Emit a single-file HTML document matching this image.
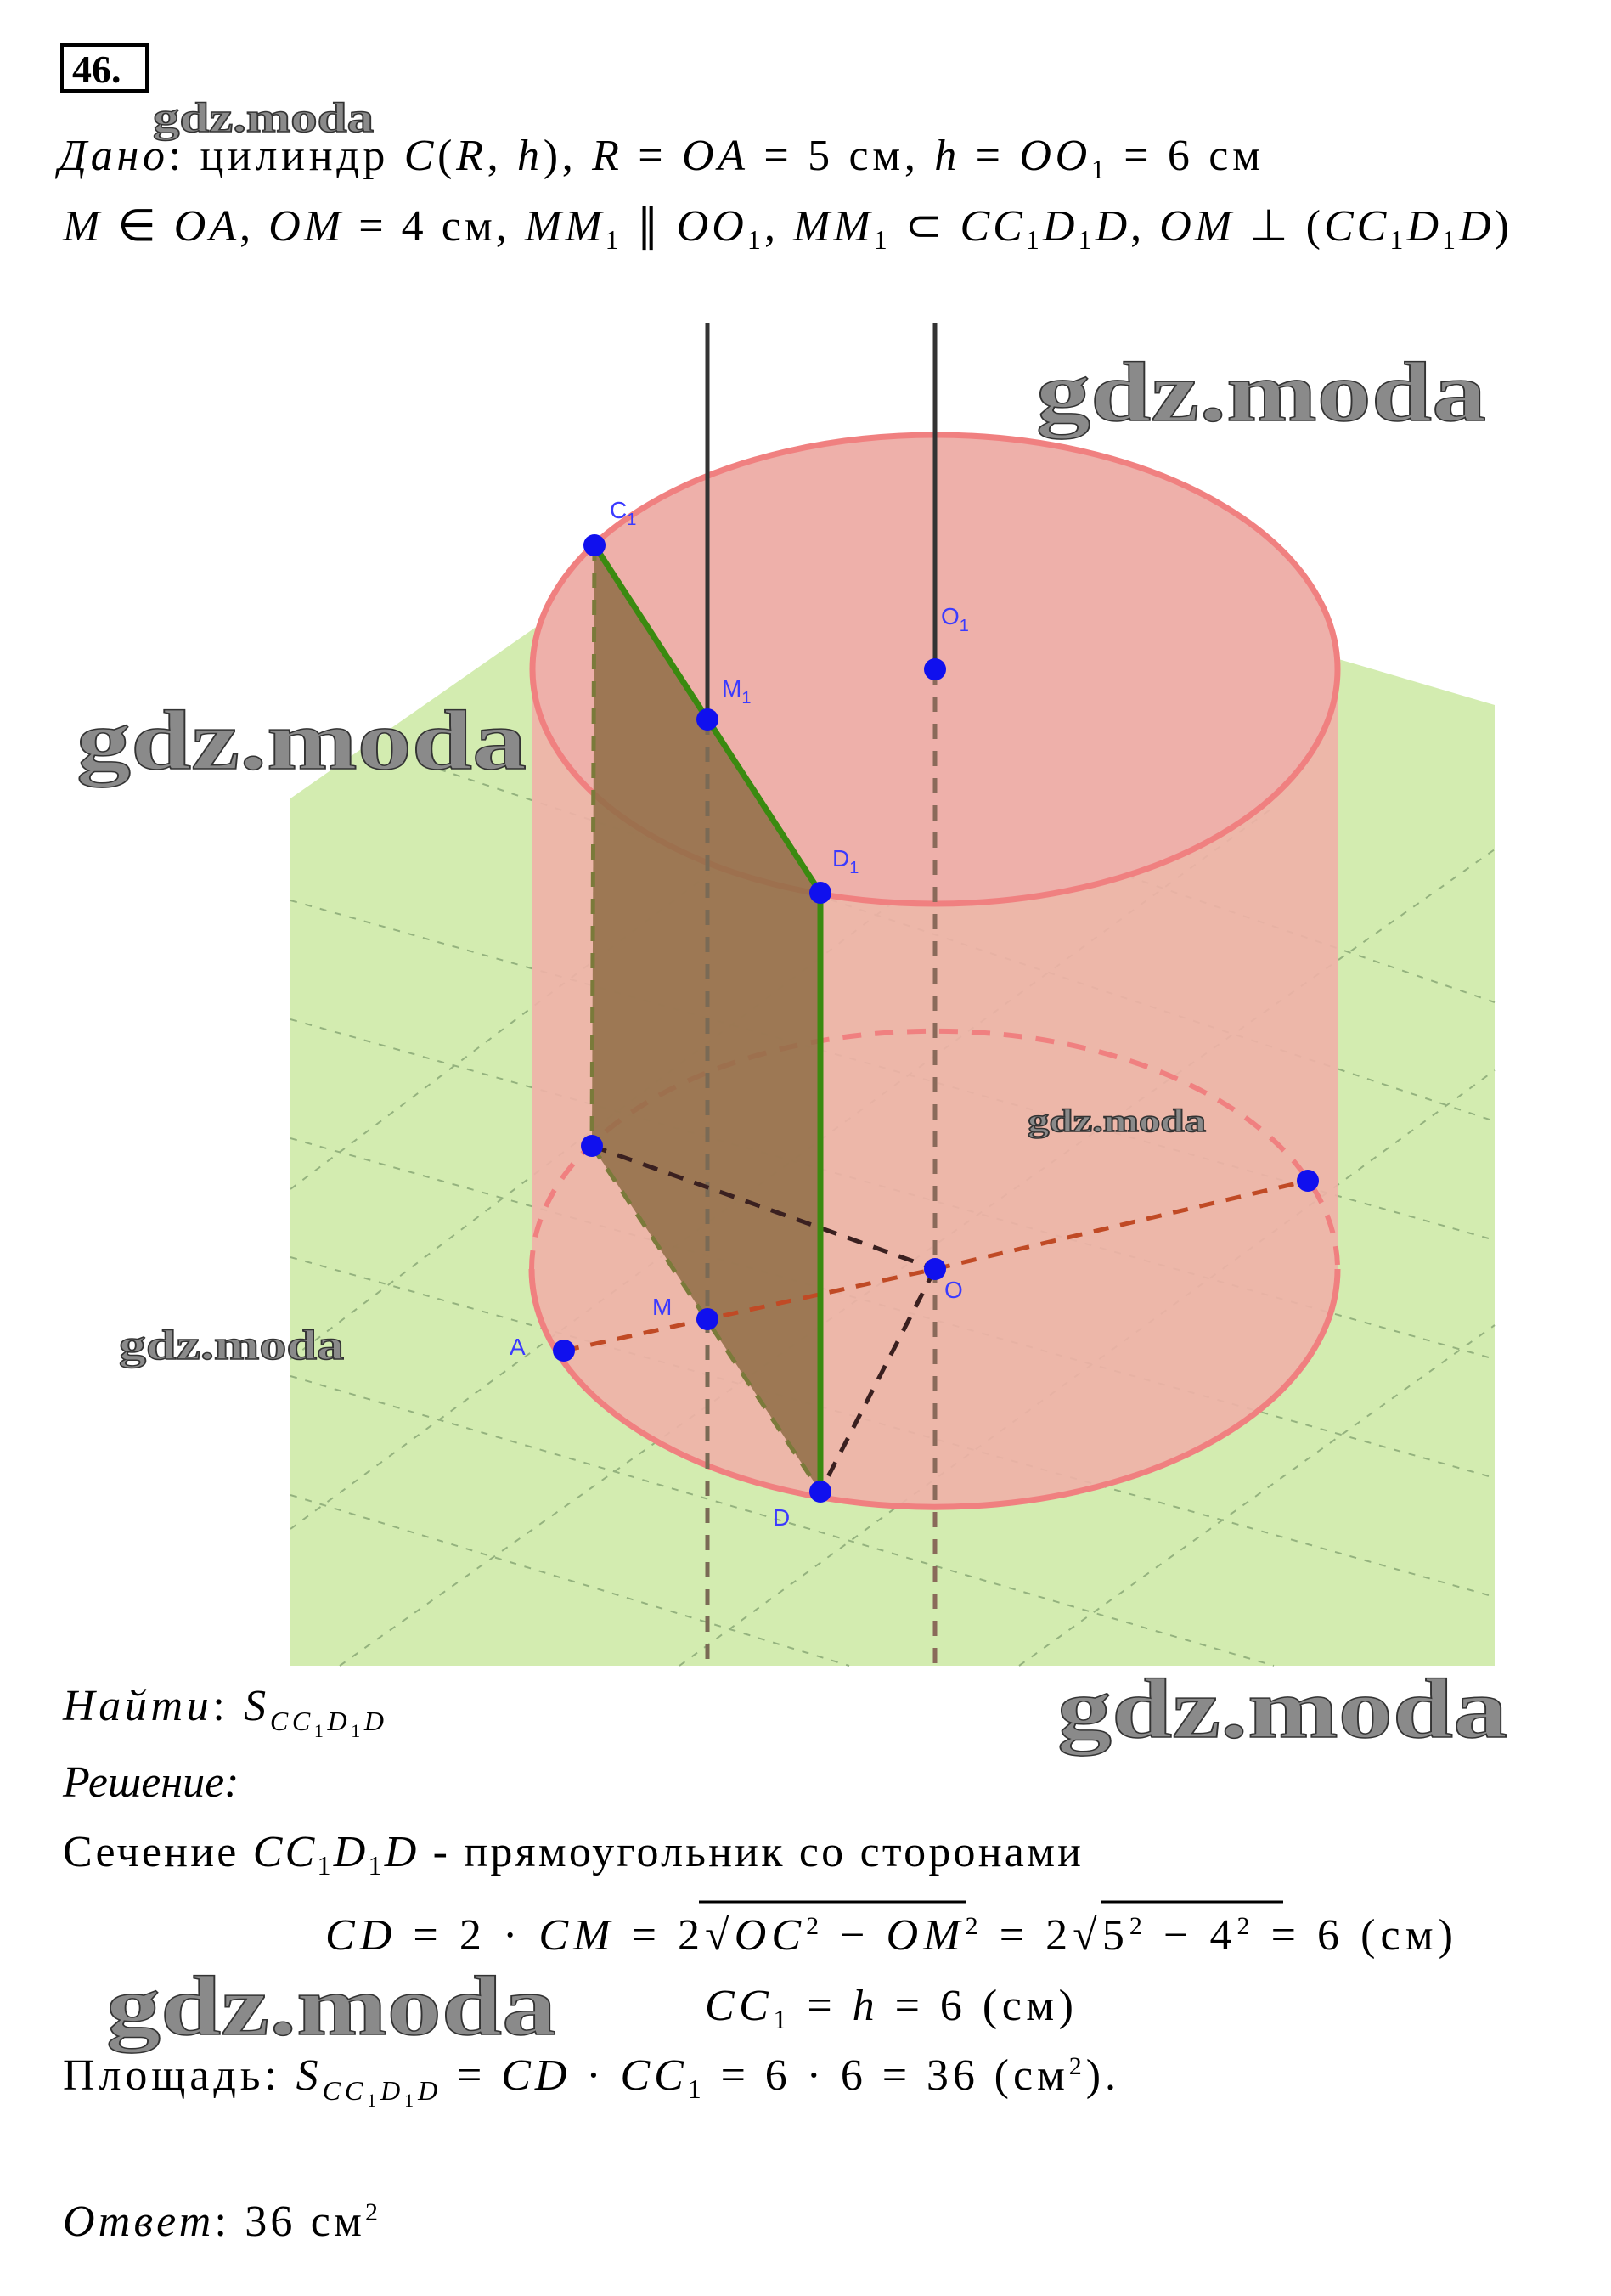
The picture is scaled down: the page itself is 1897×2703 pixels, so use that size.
<!DOCTYPE html>
<html><head><meta charset="utf-8"><style>
html,body{margin:0;padding:0;background:#fff}
svg{display:block}
.t{font-family:"Liberation Serif",serif;font-size:52px;fill:#000}
.i{font-style:italic}
.wm{font-family:"Liberation Serif",serif;font-weight:bold;fill:#8a8a8a;stroke:#333;stroke-width:1.5}
.lb{font-family:"Liberation Sans",sans-serif;font-size:28px;fill:#3a3aff}
</style></head><body>
<svg width="1897" height="2703" viewBox="0 0 1897 2703" xmlns="http://www.w3.org/2000/svg">
<rect x="73" y="53" width="100" height="54" fill="none" stroke="#000" stroke-width="4"/>
<text x="85" y="97" style="font-family:'Liberation Serif',serif;font-weight:bold;font-size:46px">46.</text>
<text x="180" y="155" class="wm" font-size="50" textLength="260" lengthAdjust="spacingAndGlyphs">gdz.moda</text>
<text x="69" y="200" class="t" textLength="1415" lengthAdjust="spacing"><tspan class="i">Дано</tspan>: цилиндр <tspan class="i">C</tspan>(<tspan class="i">R</tspan>, <tspan class="i">h</tspan>), <tspan class="i">R</tspan> = <tspan class="i">OA</tspan> = 5 см,  <tspan class="i">h</tspan> = <tspan class="i">OO</tspan><tspan font-size="32" dy="10">1</tspan><tspan dy="-10"> = 6 см</tspan></text>
<text x="74" y="283" class="t" textLength="1703" lengthAdjust="spacing"><tspan class="i">M</tspan> ∈ <tspan class="i">OA</tspan>, <tspan class="i">OM</tspan> = 4 см,  <tspan class="i">MM</tspan><tspan font-size="32" dy="10">1</tspan><tspan dy="-10"> ∥ </tspan><tspan class="i">OO</tspan><tspan font-size="32" dy="10">1</tspan><tspan dy="-10">,  </tspan><tspan class="i">MM</tspan><tspan font-size="32" dy="10">1</tspan><tspan dy="-10"> ⊂ </tspan><tspan class="i">CC</tspan><tspan font-size="32" dy="10">1</tspan><tspan dy="-10" class="i">D</tspan><tspan font-size="32" dy="10">1</tspan><tspan dy="-10" class="i">D</tspan><tspan>,  </tspan><tspan class="i">OM</tspan> ⊥ (<tspan class="i">CC</tspan><tspan font-size="32" dy="10">1</tspan><tspan dy="-10" class="i">D</tspan><tspan font-size="32" dy="10">1</tspan><tspan dy="-10" class="i">D</tspan>)</text>

<polygon points="342,940 700,690 1250,680 1760,830 1760,1961 342,1961" fill="#d3ecb0"/>
<g stroke="#7a9a6a" stroke-width="2" stroke-dasharray="8,10" opacity="0.7">
<line x1="342" y1="1060" x2="1760" y2="1460"/><line x1="342" y1="1200" x2="1760" y2="1600"/>
<line x1="342" y1="1340" x2="1760" y2="1740"/><line x1="342" y1="1480" x2="1760" y2="1880"/>
<line x1="342" y1="1620" x2="1500" y2="1961"/><line x1="342" y1="1760" x2="1000" y2="1961"/>
<line x1="500" y1="900" x2="1760" y2="1320"/><line x1="800" y1="850" x2="1760" y2="1180"/>
<line x1="400" y1="1961" x2="1760" y2="1000"/><line x1="342" y1="1800" x2="1500" y2="950"/>
<line x1="342" y1="1600" x2="1200" y2="950"/><line x1="342" y1="1400" x2="900" y2="980"/>
<line x1="800" y1="1961" x2="1760" y2="1260"/><line x1="1200" y1="1961" x2="1760" y2="1560"/>
</g>
<path d="M626,788 L626,1494 A474,280 0 0 0 1575,1494 L1575,788 Z" fill="#f0b1a8" opacity="0.9"/>
<ellipse cx="1101" cy="788" rx="474" ry="276" fill="#eeb0aa"/>
<ellipse cx="1101" cy="788" rx="474" ry="276" fill="none" stroke="#f08080" stroke-width="7"/>
<path d="M626,1494 A474,280 0 0 0 1575,1494" fill="none" stroke="#f08080" stroke-width="7"/>
<path d="M626,1494 A474,280 0 0 1 1575,1494" fill="none" stroke="#f08080" stroke-width="6" stroke-dasharray="22,16"/>
<polygon points="700,642 966,1051 966,1756 697,1349" fill="#8e6d45" opacity="0.85"/>
<g stroke-width="5" stroke-dasharray="18,14">
<line x1="833" y1="847" x2="833" y2="1961" stroke="#7a6a55"/>
<line x1="1101" y1="788" x2="1101" y2="1961" stroke="#8a6a5a"/>
<line x1="700" y1="642" x2="697" y2="1349" stroke="#7a7a3a"/>
<line x1="697" y1="1349" x2="966" y2="1756" stroke="#7a7a3a"/>
<line x1="664" y1="1590" x2="1101" y2="1494" stroke="#c04a25"/>
<line x1="1101" y1="1494" x2="1540" y2="1390" stroke="#c04a25"/>
<line x1="697" y1="1349" x2="1101" y2="1494" stroke="#3a2020"/>
<line x1="1101" y1="1494" x2="966" y2="1756" stroke="#3a2020"/>
</g>
<line x1="833" y1="380" x2="833" y2="847" stroke="#333" stroke-width="5"/>
<line x1="1101" y1="380" x2="1101" y2="788" stroke="#333" stroke-width="5"/>
<polyline points="700,642 966,1051 966,1756" fill="none" stroke="#3a8a10" stroke-width="7"/>
<g fill="#1010ee">
<circle cx="700" cy="642" r="13"/><circle cx="833" cy="847" r="13"/><circle cx="1101" cy="788" r="13"/>
<circle cx="966" cy="1051" r="13"/><circle cx="697" cy="1349" r="13"/><circle cx="833" cy="1553" r="13"/>
<circle cx="664" cy="1590" r="13"/><circle cx="966" cy="1756" r="13"/><circle cx="1101" cy="1494" r="13"/>
<circle cx="1540" cy="1390" r="13"/>
</g>
<text class="lb" x="718" y="610">C<tspan font-size="20" dy="8">1</tspan></text>
<text class="lb" x="850" y="820">M<tspan font-size="20" dy="8">1</tspan></text>
<text class="lb" x="1108" y="735">O<tspan font-size="20" dy="8">1</tspan></text>
<text class="lb" x="980" y="1020">D<tspan font-size="20" dy="8">1</tspan></text>
<text class="lb" x="768" y="1548">M</text>
<text class="lb" x="600" y="1595">A</text>
<text class="lb" x="1112" y="1528">O</text>
<text class="lb" x="910" y="1796">D</text>
<text x="1220" y="495" class="wm" font-size="100" textLength="530" lengthAdjust="spacingAndGlyphs">gdz.moda</text>
<text x="90" y="905" class="wm" font-size="100" textLength="530" lengthAdjust="spacingAndGlyphs">gdz.moda</text>
<text x="140" y="1600" class="wm" font-size="50" textLength="265" lengthAdjust="spacingAndGlyphs">gdz.moda</text>
<text x="1210" y="1332" class="wm" font-size="38" textLength="210" lengthAdjust="spacingAndGlyphs">gdz.moda</text>
<text x="1245" y="2045" class="wm" font-size="100" textLength="530" lengthAdjust="spacingAndGlyphs">gdz.moda</text>
<text x="125" y="2395" class="wm" font-size="100" textLength="530" lengthAdjust="spacingAndGlyphs">gdz.moda</text>

<text x="74" y="2025" class="t" textLength="378" lengthAdjust="spacing"><tspan class="i">Найти</tspan>: <tspan class="i">S</tspan><tspan class="i" font-size="32" dy="12">CC</tspan><tspan font-size="22" dy="8">1</tspan><tspan class="i" font-size="32" dy="-8">D</tspan><tspan font-size="22" dy="8">1</tspan><tspan class="i" font-size="32" dy="-8">D</tspan></text>
<text x="74" y="2115" class="t" font-style="italic">Решение:</text>
<text x="74" y="2197" class="t" textLength="1199" lengthAdjust="spacing">Сечение <tspan class="i">CC</tspan><tspan font-size="32" dy="10">1</tspan><tspan dy="-10" class="i">D</tspan><tspan font-size="32" dy="10">1</tspan><tspan dy="-10" class="i">D</tspan> - прямоугольник со сторонами</text>
<text x="383" y="2295" class="t" textLength="1328" lengthAdjust="spacing"><tspan class="i">CD</tspan> = 2 · <tspan class="i">CM</tspan> = 2√<tspan class="i">OC</tspan><tspan font-size="30" dy="-18">2</tspan><tspan dy="18"> − </tspan><tspan class="i">OM</tspan><tspan font-size="30" dy="-18">2</tspan><tspan dy="18"> = 2√5</tspan><tspan font-size="30" dy="-18">2</tspan><tspan dy="18"> − 4</tspan><tspan font-size="30" dy="-18">2</tspan><tspan dy="18"> = 6 (см)</tspan></text>
<line x1="823" y1="2239" x2="1138" y2="2239" stroke="#000" stroke-width="3"/>
<line x1="1297" y1="2239" x2="1511" y2="2239" stroke="#000" stroke-width="3"/>
<text x="830" y="2378" class="t" textLength="434" lengthAdjust="spacing"><tspan class="i">CC</tspan><tspan font-size="32" dy="10">1</tspan><tspan dy="-10"> = </tspan><tspan class="i">h</tspan> = 6 (см)</text>
<text x="74" y="2460" class="t" textLength="1240" lengthAdjust="spacing">Площадь: <tspan class="i">S</tspan><tspan class="i" font-size="32" dy="12">CC</tspan><tspan font-size="22" dy="8">1</tspan><tspan class="i" font-size="32" dy="-8">D</tspan><tspan font-size="22" dy="8">1</tspan><tspan class="i" font-size="32" dy="-8">D</tspan><tspan dy="-12">  = </tspan><tspan class="i">CD</tspan> ·  <tspan class="i">CC</tspan><tspan font-size="32" dy="10">1</tspan><tspan dy="-10"> = 6 · 6 = 36 (см</tspan><tspan font-size="30" dy="-18">2</tspan><tspan dy="18">).</tspan></text>
<text x="74" y="2632" class="t" textLength="371" lengthAdjust="spacing"><tspan class="i">Ответ</tspan>: 36 см<tspan font-size="30" dy="-18">2</tspan></text>
</svg>
</body></html>
